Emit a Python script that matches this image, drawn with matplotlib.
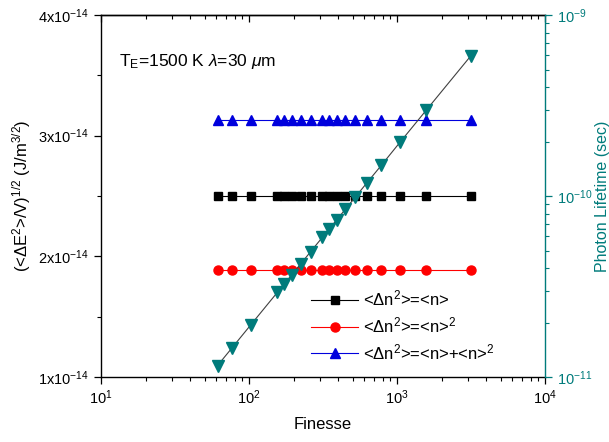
import numpy as np
import matplotlib
matplotlib.use("Agg")
import matplotlib.pyplot as plt
from matplotlib.ticker import FixedLocator, LogLocator, NullFormatter

plt.rcParams['font.family'] = ['Liberation Sans', 'DejaVu Sans']
plt.rcParams['mathtext.fontset'] = 'custom'
plt.rcParams['mathtext.rm'] = 'Liberation Sans'
plt.rcParams['mathtext.it'] = 'Liberation Sans:italic'

# finesse values of the cavity (one per mirror reflectivity)
finesse = [61.2, 77.0, 103.1, 155.5, 173.0, 194.8, 222.8, 260.2, 312.6,
           347.5, 391.1, 447.2, 522.0, 626.8, 783.8, 1045.6, 1569.2, 3140.0]

# field fluctuation (J/m^3/2) for the three photon statistics
dE_poisson = [2.50e-14] * len(finesse)
dE_thermal = [1.89e-14] * len(finesse)
dE_total = [3.134e-14] * len(finesse)

# photon lifetime (s)
lifetime = [1.157e-11, 1.455e-11, 1.95e-11, 2.94e-11, 3.27e-11, 3.68e-11,
            4.21e-11, 4.92e-11, 5.91e-11, 6.57e-11, 7.39e-11, 8.45e-11,
            9.87e-11, 1.185e-10, 1.48e-10, 1.98e-10, 2.97e-10, 5.93e-10]

left_ticks = [1e-14, 2e-14, 3e-14, 4e-14]
left_ticklabels = [r'1x10$^{-14}$', r'2x10$^{-14}$', r'3x10$^{-14}$', r'4x10$^{-14}$']

TEAL = '#007b7b'

fig = plt.figure(figsize=(6.09, 4.42), dpi=100)
ax = fig.add_axes([0.166, 0.147, 0.729, 0.819])

ax.plot(finesse, dE_poisson, '-s', color='black', lw=0.8, ms=6,
        label=r'<$\Delta$n$^2$>=<n>')
ax.plot(finesse, dE_thermal, '-o', color='red', lw=0.8, ms=6.5,
        label=r'<$\Delta$n$^2$>=<n>$^2$')
ax.plot(finesse, dE_total, '-^', color='#0000dd', lw=0.8, ms=7,
        label=r'<$\Delta$n$^2$>=<n>+<n>$^2$')

ax.set_xscale('log')
ax.set_xlim(10, 1e4)
ax.set_ylim(1e-14, 4e-14)
ax.yaxis.set_major_locator(FixedLocator(left_ticks))
ax.set_yticklabels(left_ticklabels)
ax.yaxis.set_minor_locator(FixedLocator([1.5e-14, 2.5e-14, 3.5e-14]))
ax.xaxis.set_major_locator(LogLocator(base=10, numticks=10))
ax.xaxis.set_minor_locator(LogLocator(base=10, subs=np.arange(2, 10), numticks=20))
ax.xaxis.set_minor_formatter(NullFormatter())

ax.tick_params(axis='both', which='major', labelsize=10.5, length=5, width=0.9,
               direction='out')
ax.tick_params(axis='both', which='minor', length=3, width=0.8, direction='out')
for side in ['top', 'bottom', 'left']:
    ax.spines[side].set_linewidth(1.0)
ax.spines['right'].set_visible(False)

# mirrored top axis with inward ticks, no labels
top = ax.secondary_xaxis('top')
top.xaxis.set_major_locator(LogLocator(base=10, numticks=10))
top.xaxis.set_minor_locator(LogLocator(base=10, subs=np.arange(2, 10), numticks=20))
top.xaxis.set_minor_formatter(NullFormatter())
top.tick_params(axis='x', which='major', direction='in', length=5, width=0.9,
                labeltop=False)
top.tick_params(axis='x', which='minor', direction='in', length=3, width=0.8)
top.spines['top'].set_linewidth(1.0)

ax.set_xlabel('Finesse', fontsize=12, labelpad=7)
ax.set_ylabel(r'(<$\Delta$E$^2$>/V)$^{1/2}$ (J/m$^{3/2}$)', fontsize=12, labelpad=4)

ax.text(0.04, 0.86, r'T$_\mathrm{E}$=1500 K $\lambda$=30 $\mu$m',
        transform=ax.transAxes, fontsize=12.5)

ax.legend(loc='lower right', bbox_to_anchor=(0.92, 0.0), frameon=False,
          fontsize=12, handlelength=2.8, handletextpad=0.3, labelspacing=0.4)

ax2 = ax.twinx()
ax2.plot(finesse, lifetime, '-v', color='#404040', lw=0.8, ms=8,
         markerfacecolor=TEAL, markeredgecolor=TEAL)
ax2.set_yscale('log')
ax2.set_ylim(1e-11, 1e-9)
ax2.yaxis.set_minor_locator(LogLocator(base=10, subs=np.arange(2, 10), numticks=20))
ax2.yaxis.set_minor_formatter(NullFormatter())
for side in ['top', 'bottom', 'left']:
    ax2.spines[side].set_visible(False)
ax2.spines['right'].set_color(TEAL)
ax2.spines['right'].set_linewidth(1.0)
ax2.tick_params(axis='y', which='major', colors=TEAL, labelsize=10.5, length=5,
                width=0.9, direction='out')
ax2.tick_params(axis='y', which='minor', colors=TEAL, length=3, width=0.8,
                direction='out')
ax2.set_ylabel('Photon Lifetime (sec)', color=TEAL, fontsize=11.5, labelpad=2)

fig.savefig('out.png', dpi=100)
